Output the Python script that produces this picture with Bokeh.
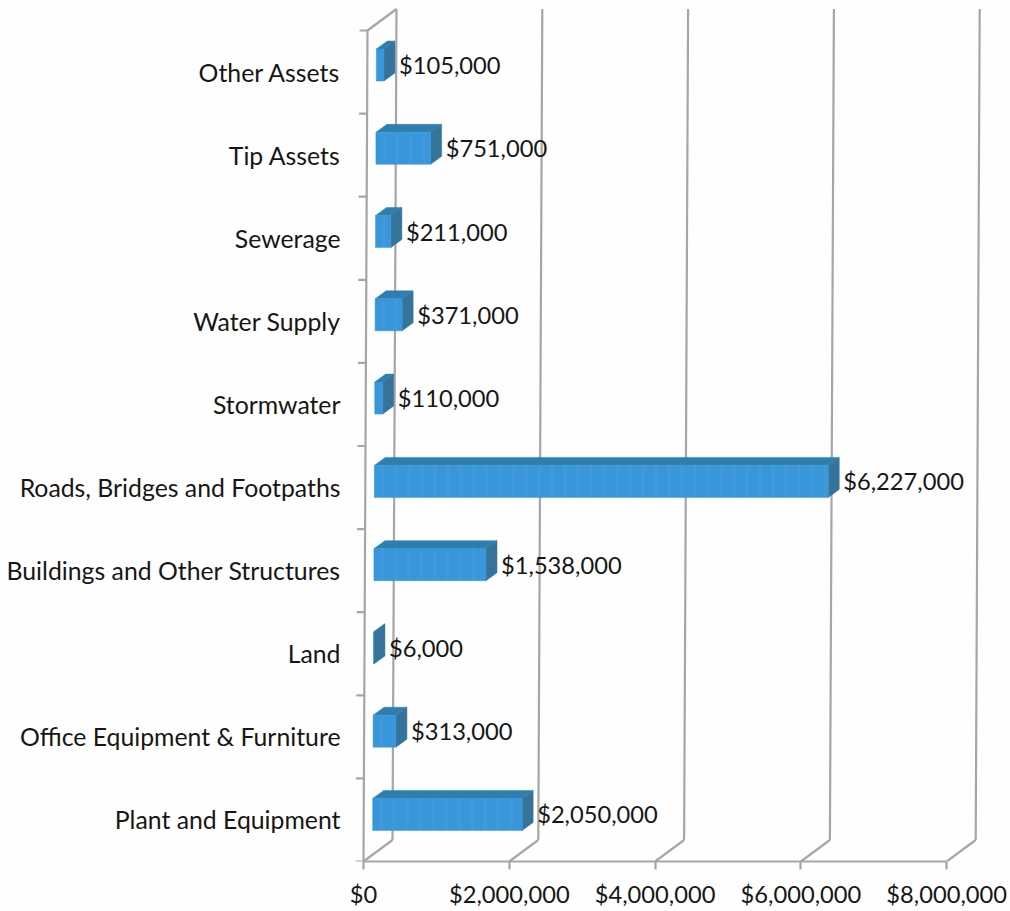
from bokeh.embed import file_html
from bokeh.models import FixedTicker, NumeralTickFormatter, Range1d
from bokeh.plotting import figure
from bokeh.resources import INLINE

categories = ["Plant and Equipment", "Office Equipment & Furniture", "Land",
              "Buildings and Other Structures", "Roads, Bridges and Footpaths",
              "Stormwater", "Water Supply", "Sewerage", "Tip Assets", "Other Assets"]
values = [2050000, 313000, 6000, 1538000, 6227000, 110000, 371000, 211000, 751000, 105000]
x_ticks = [0, 2000000, 4000000, 6000000, 8000000]

FONT = "Lato"
VALUE_SIZE = "23.7px"
CATEGORY_SIZE = "24.8px"
GRID = "#a6a6a6"
GRID_WIDTH = 2.2
INK = "#161616"
FRONT = "#3896da"
STREAK = "#6db4e6"
TOP = "#2f7fae"
SIDE = "#35739a"

# 3-D projection constants, in axis units ($ across, category rows up)
DOLLARS_PER_PX = 1e6 / 72.9
ROW_PX = 83.1
WALL_DX = 29 * DOLLARS_PER_PX
WALL_DY = 21.5 / ROW_PX
BAR_X0 = 9 * DOLLARS_PER_PX
BAR_DX = 11 * DOLLARS_PER_PX
BAR_DY = 8 / ROW_PX
BAR_LOW = -10.5 / ROW_PX
BAR_HIGH = 21.5 / ROW_PX
BAR_ROW_PITCH = 1.002  # bars sit on a slightly wider pitch than the wall ticks
LEAN = 0.4 * DOLLARS_PER_PX  # the vertical lines lean right as they rise
ROW_MIN = -0.5
ROW_MAX = len(categories) - 0.5
STREAK_STEP = 13 * DOLLARS_PER_PX
STREAK_WIDTH = 4 * DOLLARS_PER_PX


def lean(row):
    return (row - ROW_MIN) * LEAN


p = figure(width=1010, height=911, output_backend="svg", toolbar_location=None,
           x_range=Range1d(-13 * DOLLARS_PER_PX, 647 * DOLLARS_PER_PX),
           y_range=Range1d(ROW_MIN, ROW_MIN + 861 / ROW_PX),
           frame_width=660, frame_height=861,
           min_border_left=350, min_border_right=0, min_border_top=0, min_border_bottom=50,
           background_fill_color="#fefefe", border_fill_color="#fefefe", outline_line_color=None)
p.grid.visible = False

p.xaxis.ticker = FixedTicker(ticks=x_ticks)
p.xaxis.bounds = (0, x_ticks[-1])
p.xaxis.formatter = NumeralTickFormatter(format="$0,0")
p.xaxis.axis_line_color = GRID
p.xaxis.axis_line_width = GRID_WIDTH
p.xaxis.major_tick_line_color = GRID
p.xaxis.major_tick_line_width = GRID_WIDTH
p.xaxis.major_tick_in = 0
p.xaxis.major_tick_out = 8
p.xaxis.minor_tick_line_color = None
p.xaxis.major_label_text_font = FONT
p.xaxis.major_label_text_font_size = VALUE_SIZE
p.xaxis.major_label_text_color = INK
p.xaxis.major_label_standoff = 10

p.yaxis.ticker = FixedTicker(ticks=list(range(len(categories))))
p.yaxis.major_label_overrides = {i: c for i, c in enumerate(categories)}
p.yaxis.axis_line_color = None
p.yaxis.major_tick_line_color = None
p.yaxis.minor_tick_line_color = None
p.yaxis.major_tick_out = 0
p.yaxis.major_tick_in = 0
p.yaxis.major_label_text_font = FONT
p.yaxis.major_label_text_font_size = CATEGORY_SIZE
p.yaxis.major_label_text_color = INK
p.yaxis.major_label_standoff = 10

# Back wall verticals, floor diagonals, left wall and its top edge
p.segment(x0=[t + WALL_DX for t in x_ticks], y0=[ROW_MIN + WALL_DY] * 5,
          x1=[t + WALL_DX + lean(ROW_MAX) for t in x_ticks], y1=[ROW_MAX + WALL_DY] * 5,
          line_color=GRID, line_width=GRID_WIDTH)
p.segment(x0=x_ticks, y0=[ROW_MIN] * 5,
          x1=[t + WALL_DX for t in x_ticks], y1=[ROW_MIN + WALL_DY] * 5,
          line_color=GRID, line_width=GRID_WIDTH)
p.segment(x0=[0, lean(ROW_MAX)], y0=[ROW_MIN, ROW_MAX],
          x1=[lean(ROW_MAX), lean(ROW_MAX) + WALL_DX], y1=[ROW_MAX, ROW_MAX + WALL_DY],
          line_color=GRID, line_width=GRID_WIDTH)

# Category boundary ticks on the left wall
boundaries = [ROW_MIN + i for i in range(len(categories) + 1)]
p.segment(x0=[lean(b) - 8 * DOLLARS_PER_PX for b in boundaries], y0=boundaries,
          x1=[lean(b) for b in boundaries], y1=boundaries,
          line_color=GRID, line_width=GRID_WIDTH)

# Bars: side and top faces behind the front face
rows = [i * BAR_ROW_PITCH for i in range(len(values))]
starts = [BAR_X0 + lean(r) for r in rows]
ends = [s + v for s, v in zip(starts, values)]
p.patches(xs=[[e, e + BAR_DX, e + BAR_DX, e] for e in ends],
          ys=[[r + BAR_LOW, r + BAR_LOW + BAR_DY, r + BAR_HIGH + BAR_DY, r + BAR_HIGH] for r in rows],
          fill_color=SIDE, line_color=SIDE, line_width=0.5)
p.patches(xs=[[s, e, e + BAR_DX, s + BAR_DX] for s, e in zip(starts, ends)],
          ys=[[r + BAR_HIGH, r + BAR_HIGH, r + BAR_HIGH + BAR_DY, r + BAR_HIGH + BAR_DY] for r in rows],
          fill_color=TOP, line_color=TOP, line_width=0.5)
p.quad(left=starts, right=ends,
       bottom=[r + BAR_LOW for r in rows],
       top=[r + BAR_HIGH for r in rows],
       fill_color=FRONT, line_color=FRONT, line_width=0.5)

# Faint vertical streaks across the front faces
streak_left, streak_right, streak_bottom, streak_top = [], [], [], []
for r, s, e in zip(rows, starts, ends):
    x = s + STREAK_STEP / 2
    while x + STREAK_WIDTH < e:
        streak_left.append(x)
        streak_right.append(x + STREAK_WIDTH)
        streak_bottom.append(r + BAR_LOW)
        streak_top.append(r + BAR_HIGH)
        x += STREAK_STEP
p.quad(left=streak_left, right=streak_right, bottom=streak_bottom, top=streak_top,
       fill_color=STREAK, fill_alpha=0.14, line_color=None)

# Value labels to the right of each bar
p.text(x=[e + BAR_DX + 4 * DOLLARS_PER_PX for e in ends],
       y=[r + (BAR_LOW + BAR_HIGH) / 2 for r in rows],
       text=[f"${v:,}" for v in values],
       text_font={"value": FONT}, text_font_size={"value": VALUE_SIZE},
       text_color=INK, text_align="left", text_baseline="middle")

open("out.html", "w").write(file_html(p, INLINE))
